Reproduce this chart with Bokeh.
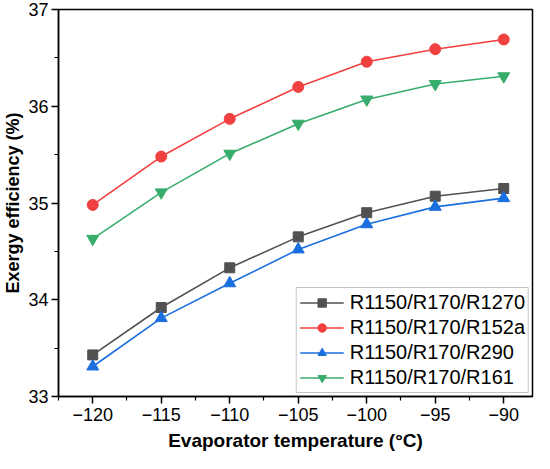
from bokeh.plotting import figure
from bokeh.models import FixedTicker, Range1d, Legend, LegendItem
from bokeh.embed import file_html
from bokeh.resources import INLINE

temps = [-120, -115, -110, -105, -100, -95, -90]
r1270 = [33.43, 33.92, 34.33, 34.65, 34.90, 35.07, 35.15]
r152a = [34.98, 35.48, 35.87, 36.20, 36.46, 36.59, 36.69]
r290 = [33.31, 33.81, 34.17, 34.52, 34.78, 34.96, 35.05]
r161 = [34.63, 35.11, 35.51, 35.82, 36.07, 36.23, 36.31]
names = ["R1150/R170/R1270", "R1150/R170/R152a", "R1150/R170/R290", "R1150/R170/R161"]
colors = ["#515151", "#F14040", "#1A6FDF", "#37AD6B"]
xticks = [-120, -115, -110, -105, -100, -95, -90]
yticks = [33, 34, 35, 36, 37]

FONT = "Liberation Sans"

p = figure(width=534, height=453, output_backend="svg", toolbar_location=None,
           x_range=Range1d(-122.5, -87.9), y_range=Range1d(33, 37),
           min_border_left=49, min_border_right=2, min_border_top=9, min_border_bottom=52)
p.background_fill_color = "white"
p.border_fill_color = "white"
p.outline_line_color = "black"
p.outline_line_width = 1.5
p.xgrid.visible = False
p.ygrid.visible = False

p.xaxis.ticker = FixedTicker(ticks=xticks, minor_ticks=[t + 2.5 for t in [-125] + xticks])
p.yaxis.ticker = FixedTicker(ticks=yticks, minor_ticks=[t + 0.5 for t in yticks])
for ax in (p.xaxis, p.yaxis):
    ax.axis_line_width = 1.5
    ax.axis_line_color = "black"
    ax.major_tick_line_width = 1.5
    ax.minor_tick_line_width = 1.2
    ax.major_tick_in = 0
    ax.major_tick_out = 7
    ax.minor_tick_in = 0
    ax.minor_tick_out = 4
    ax.major_label_text_font = FONT
    ax.major_label_text_font_size = "18px"
    ax.major_label_text_color = "black"
    ax.axis_label_text_font = FONT
    ax.axis_label_text_font_style = "bold"
    ax.axis_label_text_color = "black"
p.xaxis.axis_label_text_font_size = "19px"
p.yaxis.axis_label_text_font_size = "18px"
p.xaxis.axis_label = "Evaporator temperature (\u00b0C)"
p.yaxis.axis_label = "Exergy efficiency (%)"
p.xaxis.major_label_overrides = {t: "\u2212" + str(abs(t)) for t in xticks}
p.xaxis.major_label_standoff = 4
p.xaxis.axis_label_standoff = 6
p.yaxis.major_label_standoff = 3
p.yaxis.axis_label_standoff = 2

series = [r1270, r152a, r290, r161]
markers = ["square", "circle", "triangle", "inverted_triangle"]
sizes = [10, 11, 12, 12]
items = []
for vals, name, col, mk, sz in zip(series, names, colors, markers, sizes):
    ln = p.line(temps, vals, line_color=col, line_width=1.6)
    sc = p.scatter(temps, vals, marker=mk, size=sz, fill_color=col, line_color=col)
    items.append(LegendItem(label=name, renderers=[ln, sc]))

legend = Legend(items=items, location="bottom_right")
legend.margin = 3
legend.padding = 3
legend.spacing = 2
legend.label_height = 21
legend.glyph_height = 21
legend.glyph_width = 44
legend.label_standoff = 6
legend.label_text_font = FONT
legend.label_text_font_size = "20px"
legend.label_text_color = "black"
legend.border_line_color = "#888888"
legend.border_line_width = 1
legend.background_fill_alpha = 1
p.add_layout(legend)

open("out.html", "w").write(file_html(p, INLINE))
